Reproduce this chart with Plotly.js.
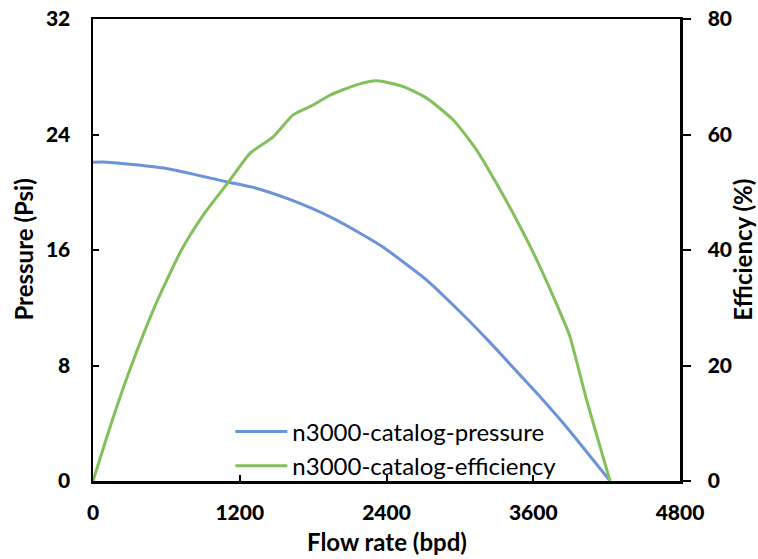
<!DOCTYPE html>
<html>
<head>
<meta charset="utf-8">
<script src="https://cdn.plot.ly/plotly-3.0.1.min.js"></script>
<style>html,body{margin:0;padding:0;background:#fff;}#chart{width:758px;height:559px;}</style>
</head>
<body>
<div id="chart"></div>
<script>
const pressureFlow = [0, 82, 600, 1091, 1309, 1609, 1964, 2346, 2728, 3028, 3246, 3491, 3628, 3846, 4228];
const pressureValues = [22.07, 22.1, 21.65, 20.73, 20.34, 19.5, 18.19, 16.34, 13.92, 11.5, 9.6, 7.35, 6.1, 4.0, 0];
const effFlow = [0, 165, 314, 505, 723, 900, 1120, 1282, 1473, 1637, 1800, 1937, 2155, 2318, 2536, 2728, 2946, 3137, 3300, 3464, 3628, 3846, 3900, 4037, 4228];
const effValues = [0, 11.0, 20.0, 30.2, 40.0, 46.0, 52.1, 56.7, 59.6, 63.4, 65.1, 66.8, 68.6, 69.3, 68.3, 66.3, 62.5, 57.3, 51.5, 45.2, 38.3, 27.9, 25.0, 14.0, 0];
const names = ['n3000-catalog-pressure', 'n3000-catalog-efficiency'];
const xTitle = 'Flow rate (bpd)';
const yTitle = 'Pressure (Psi)';
const y2Title = 'Efficiency (%)';

const FONT = 'Lato, "Open Sans", sans-serif';
const tickFont = {family: FONT, size: 21, color: '#000', weight: 900};
const titleFont = {family: FONT, size: 24, color: '#000', weight: 'bold'};

const traces = [
  {x: pressureFlow, y: pressureValues, name: names[0], type: 'scatter', mode: 'lines',
   line: {color: '#6b93d8', width: 3, shape: 'spline', smoothing: 0.6}, yaxis: 'y'},
  {x: effFlow, y: effValues, name: names[1], type: 'scatter', mode: 'lines',
   line: {color: '#83bf5a', width: 3, shape: 'spline', smoothing: 0.6}, yaxis: 'y2'}
];

const layout = {
  width: 758, height: 559,
  margin: {l: 93, r: 78, t: 19, b: 78},
  paper_bgcolor: '#fff', plot_bgcolor: '#fff',
  showlegend: true,
  legend: {x: 0.234, y: 0.155, xanchor: 'left', yanchor: 'top', bgcolor: 'rgba(0,0,0,0)',
           font: {family: FONT, size: 24, color: '#000'}, itemwidth: 52, tracegroupgap: 0},
  xaxis: {range: [0, 4800], dtick: 1200, tick0: 0, showgrid: false, zeroline: false,
          showline: true, linecolor: '#000', linewidth: 2.5, mirror: true,
          ticks: 'inside', ticklen: 6, tickwidth: 2, tickcolor: '#000',
          tickfont: tickFont, ticklabelstandoff: 11},
  yaxis: {range: [0, 32], dtick: 8, tick0: 0, showgrid: false, zeroline: false,
          showline: true, linecolor: '#000', linewidth: 2.5,
          ticks: 'inside', ticklen: 6, tickwidth: 2, tickcolor: '#000',
          tickfont: tickFont, ticklabelstandoff: 16},
  yaxis2: {range: [0, 80], dtick: 20, tick0: 0, overlaying: 'y', side: 'right',
           showgrid: false, zeroline: false, showline: true, linecolor: '#000', linewidth: 2.5,
           ticks: 'outside', ticklen: 8, tickwidth: 2, tickcolor: '#000',
           tickfont: tickFont, ticklabelstandoff: 13},
  annotations: [
    {text: xTitle, xref: 'paper', yref: 'paper', x: 0.5, y: -0.132, showarrow: false,
     xanchor: 'center', yanchor: 'middle', font: titleFont},
    {text: yTitle, xref: 'paper', yref: 'paper', x: -0.12, y: 0.5, showarrow: false, textangle: -90,
     xanchor: 'center', yanchor: 'middle', font: titleFont},
    {text: y2Title, xref: 'paper', yref: 'paper', x: 1.105, y: 0.5, showarrow: false, textangle: -90,
     xanchor: 'center', yanchor: 'middle', font: titleFont}
  ]
};

Plotly.newPlot('chart', traces, layout, {displayModeBar: false, staticPlot: true});
</script>
</body>
</html>
